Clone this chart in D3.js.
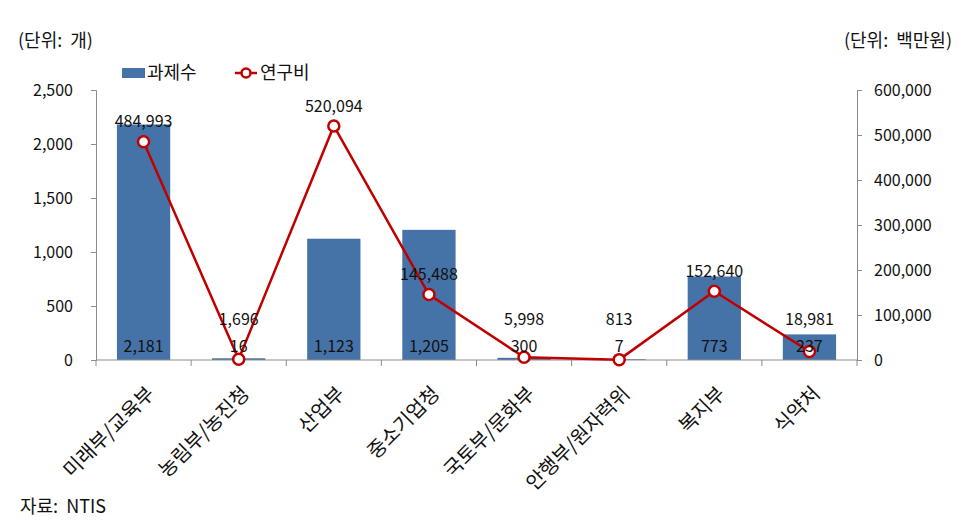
<!DOCTYPE html>
<html>
<head>
<meta charset="utf-8">
<script src="https://cdn.jsdelivr.net/npm/d3@7"></script>
<style>
  body { margin: 0; background: #fff; }
  text { font-family: "Noto Sans CJK KR", "Noto Sans", sans-serif; fill: #111; }
</style>
</head>
<body>
<script>
// data
const categories = ["미래부/교육부", "농림부/농진청", "산업부", "중소기업청", "국토부/문화부", "안행부/원자력위", "복지부", "식약처"];
// bar labels as printed, and bar heights as drawn (the 국토부/문화부 bar is drawn near zero)
const projectLabels = [2181, 16, 1123, 1205, 300, 7, 773, 237];
const projectBars = [2181, 16, 1123, 1205, 20, 7, 773, 237];
const budget = [484993, 1696, 520094, 145488, 5998, 813, 152640, 18981];
const leftTicks = [0, 500, 1000, 1500, 2000, 2500];
const rightTicks = [0, 100000, 200000, 300000, 400000, 500000, 600000];

const width = 965, height = 526;
const margin = {top: 90, right: 108, bottom: 166, left: 96};
const barColor = "#4572A7", lineColor = "#C00000", axisColor = "#8c8c8c";
const fmt = d3.format(",");
const numSize = "16px", korSize = "18px";

const svg = d3.select("body").append("svg")
    .attr("width", width)
    .attr("height", height);

const x = d3.scaleBand()
    .domain(categories)
    .range([margin.left, width - margin.right])
    .paddingInner(0.44)
    .paddingOuter(0.22);

const yL = d3.scaleLinear().domain([0, 2500]).range([height - margin.bottom, margin.top]);
const yR = d3.scaleLinear().domain([0, 600000]).range([height - margin.bottom, margin.top]);

// bars
svg.append("g")
    .selectAll("rect")
    .data(projectBars)
    .join("rect")
    .attr("x", (d, i) => x(categories[i]))
    .attr("y", d => yL(d))
    .attr("width", x.bandwidth())
    .attr("height", d => yL(0) - yL(d))
    .attr("fill", barColor);

// axes
const styleAxis = g => {
    g.selectAll(".domain").attr("stroke", axisColor);
    g.selectAll(".tick line").attr("stroke", axisColor);
    g.selectAll(".tick text").style("font-size", numSize).attr("fill", "#111");
};

svg.append("g")
    .attr("transform", `translate(${margin.left},0)`)
    .call(d3.axisLeft(yL).tickValues(leftTicks).tickFormat(fmt).tickSize(5).tickSizeOuter(5).tickPadding(18))
    .call(styleAxis);

svg.append("g")
    .attr("transform", `translate(${width - margin.right},0)`)
    .call(d3.axisRight(yR).tickValues(rightTicks).tickFormat(fmt).tickSize(5).tickSizeOuter(5).tickPadding(12))
    .call(styleAxis);

// category axis: ticks at band boundaries
const step = x.step();
const xAxis = svg.append("g").attr("transform", `translate(0,${yL(0)})`);
xAxis.append("line")
    .attr("x1", margin.left).attr("x2", width - margin.right)
    .attr("stroke", axisColor);
xAxis.selectAll(".bt")
    .data(d3.range(categories.length + 1))
    .join("line")
    .attr("x1", i => margin.left + i * step)
    .attr("x2", i => margin.left + i * step)
    .attr("y1", 0).attr("y2", 6)
    .attr("stroke", axisColor);
xAxis.selectAll(".cl")
    .data(categories)
    .join("text")
    .attr("transform", d => `translate(${x(d) + x.bandwidth() / 2 + 2},25) rotate(-45)`)
    .attr("text-anchor", "end")
    .attr("dy", "0.7em")
    .style("font-size", "20px")
    .text(d => d);

// line
const cx = (d, i) => x(categories[i]) + x.bandwidth() / 2;
svg.append("path")
    .datum(budget)
    .attr("fill", "none")
    .attr("stroke", lineColor)
    .attr("stroke-width", 2.5)
    .attr("d", d3.line().x(cx).y(d => yR(d)));

svg.append("g")
    .selectAll("circle")
    .data(budget)
    .join("circle")
    .attr("cx", cx)
    .attr("cy", d => yR(d))
    .attr("r", 5.5)
    .attr("fill", "#fff")
    .attr("stroke", lineColor)
    .attr("stroke-width", 2.5);

// data labels
svg.append("g")
    .selectAll("text")
    .data(projectLabels)
    .join("text")
    .attr("x", cx)
    .attr("y", yL(0) - 14)
    .attr("dy", "0.35em")
    .attr("text-anchor", "middle")
    .style("font-size", numSize)
    .text(fmt);

svg.append("g")
    .selectAll("text")
    .data(budget)
    .join("text")
    .attr("x", cx)
    .attr("y", d => Math.min(yR(d) - 20, yL(0) - 41))
    .attr("dy", "0.35em")
    .attr("text-anchor", "middle")
    .style("font-size", numSize)
    .text(fmt);

// legend
const legend = svg.append("g").attr("transform", "translate(122,73)");
legend.append("rect").attr("x", 0).attr("y", -5).attr("width", 23).attr("height", 10).attr("fill", barColor);
legend.append("text").attr("x", 25).attr("dy", "0.35em").style("font-size", korSize).text("과제수");
legend.append("line").attr("x1", 113).attr("x2", 135).attr("stroke", lineColor).attr("stroke-width", 2.5);
legend.append("circle").attr("cx", 124).attr("r", 4.5).attr("fill", "#fff").attr("stroke", lineColor).attr("stroke-width", 2.5);
legend.append("text").attr("x", 138).attr("dy", "0.35em").style("font-size", korSize).text("연구비");

// units and source
svg.append("text").attr("x", 18).attr("y", 41).attr("dy", "0.35em").style("font-size", korSize).text("(단위:\u00a0 개)");
svg.append("text").attr("x", 952).attr("y", 41).attr("dy", "0.35em").attr("text-anchor", "end").style("font-size", korSize).text("(단위:\u00a0 백만원)");
svg.append("text").attr("x", 20).attr("y", 507).attr("dy", "0.35em").style("font-size", korSize).text("자료:\u00a0 NTIS");
</script>
</body>
</html>
